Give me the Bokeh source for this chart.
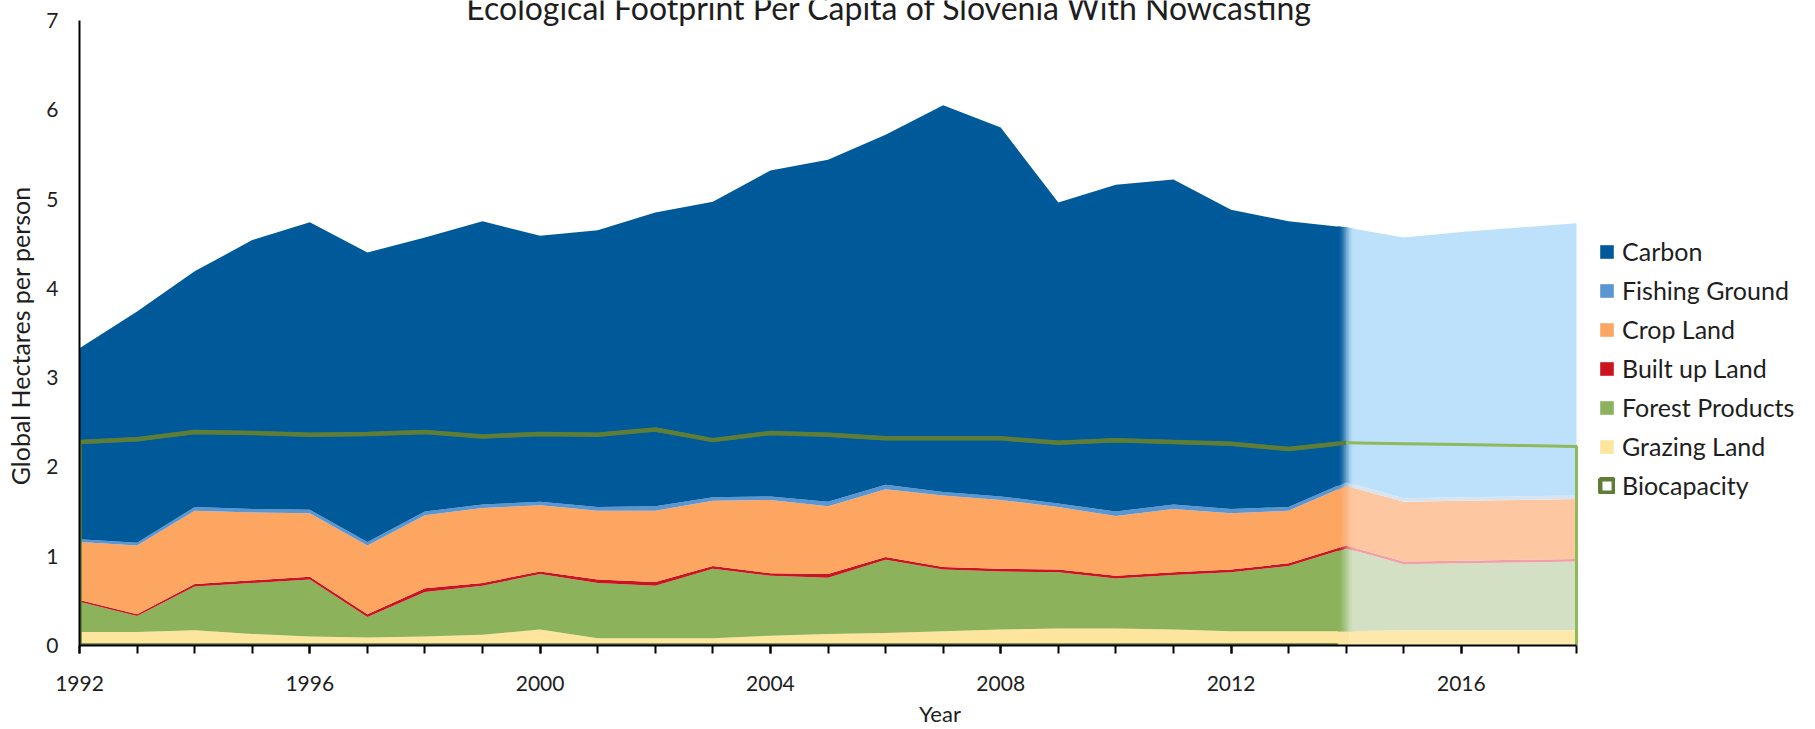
import numpy as np
from bokeh.plotting import figure
from bokeh.models import (ColumnDataSource, Legend, LegendItem, Label,
                          FixedTicker, Range1d)
from bokeh.embed import file_html
from bokeh.resources import INLINE

# ---------------- data (global hectares per person) ----------------
years = list(range(1992, 2019))
grazing = [0.15, 0.15, 0.17, 0.13, 0.10, 0.09, 0.10, 0.12, 0.18, 0.08, 0.08, 0.08,
           0.11, 0.13, 0.14, 0.16, 0.18, 0.19, 0.19, 0.18, 0.16, 0.16, 0.16,
           0.17, 0.17, 0.17, 0.17]
forest = [0.34, 0.18, 0.49, 0.57, 0.64, 0.23, 0.50, 0.55, 0.62, 0.62, 0.59, 0.78,
          0.67, 0.63, 0.82, 0.69, 0.65, 0.63, 0.56, 0.61, 0.66, 0.73, 0.93,
          0.74, 0.75, 0.76, 0.77]
built_up = [0.02, 0.02, 0.03, 0.03, 0.03, 0.03, 0.04, 0.03, 0.03, 0.04, 0.04, 0.03,
            0.03, 0.04, 0.03, 0.03, 0.03, 0.03, 0.03, 0.03, 0.03, 0.03, 0.03,
            0.03, 0.03, 0.03, 0.03]
crop = [0.65, 0.77, 0.82, 0.76, 0.71, 0.77, 0.82, 0.84, 0.74, 0.77, 0.80, 0.73,
        0.82, 0.76, 0.76, 0.80, 0.77, 0.70, 0.67, 0.71, 0.63, 0.59, 0.67,
        0.67, 0.67, 0.67, 0.67]
fishing = [0.03, 0.03, 0.04, 0.04, 0.04, 0.04, 0.04, 0.04, 0.04, 0.04, 0.05, 0.04,
           0.04, 0.05, 0.05, 0.04, 0.04, 0.04, 0.05, 0.05, 0.05, 0.04, 0.04,
           0.04, 0.04, 0.04, 0.04]
carbon = [2.14, 2.59, 2.64, 3.01, 3.22, 3.24, 3.07, 3.17, 2.98, 3.10, 3.29, 3.31,
          3.65, 3.83, 3.92, 4.33, 4.13, 3.37, 3.66, 3.64, 3.35, 3.20, 2.85,
          2.92, 2.97, 3.01, 3.05]
biocapacity = [2.28, 2.31, 2.39, 2.38, 2.36, 2.37, 2.39, 2.34, 2.37, 2.36, 2.42, 2.30,
               2.38, 2.36, 2.32, 2.32, 2.32, 2.27, 2.30, 2.28, 2.26, 2.20, 2.27,
               2.26, 2.25, 2.24, 2.23]
last_measured_year = 2014          # later years are nowcast
x_major_ticks = [1992, 1996, 2000, 2004, 2008, 2012, 2016]
y_ticks = [0, 1, 2, 3, 4, 5, 6, 7]
y_max = 7

layer_names = ["Grazing Land", "Forest Products", "Built up Land",
               "Crop Land", "Fishing Ground", "Carbon"]
layer_keys = ["grazing", "forest", "built_up", "crop", "fishing", "carbon"]
layer_values = [grazing, forest, built_up, crop, fishing, carbon]
dark_colors = ["#FEE59E", "#8CB25C", "#CC1420", "#FDA662", "#5A96D2", "#005A9A"]
light_colors = ["#FFE8AC", "#D3E0C3", "#F2A0A8", "#FDC7A1", "#D8E5F1", "#BDE1FB"]
bio_dark = "#5E7D37"
bio_light = "#8EBA5C"
FONT = "Lato"
TXT = "#1E1E1E"

# ---------------- layout (pixels) ----------------
W, H = 1800, 729
PX_LEFT, PX_RIGHT_END, PX_TOP, PX_ZERO = 79, 1576, 20, 646
ppy = (PX_RIGHT_END - PX_LEFT) / (years[-1] - years[0])
ppu = (PX_ZERO - PX_TOP) / y_max
x_end = years[-1] + (W - PX_RIGHT_END) / ppy
y_end = y_max + PX_TOP / ppu

# ---------------- sources ----------------
data = {"year": years}
for k, v in zip(layer_keys, layer_values):
    data[k] = v
idx_split = years.index(last_measured_year)
hist = {k: v[: idx_split + 1] for k, v in data.items()}
now = {k: v[idx_split:] for k, v in data.items()}
src_hist = ColumnDataSource(hist)
src_now = ColumnDataSource(now)

p = figure(width=W, height=H, output_backend="svg", toolbar_location=None,
           x_range=Range1d(years[0], x_end), y_range=Range1d(0, y_end),
           min_border_left=PX_LEFT, min_border_right=0, min_border_top=0,
           min_border_bottom=H - PX_ZERO)
p.outline_line_color = None
p.xgrid.visible = False
p.ygrid.visible = False

r_hist = p.varea_stack(stackers=layer_keys, x="year", color=dark_colors, source=src_hist)
r_now = p.varea_stack(stackers=layer_keys, x="year", color=light_colors, source=src_now)

# historical biocapacity outline (its closing edge gets covered by the fade)
bx_hist = [years[0]] + years[: idx_split + 1] + [last_measured_year]
by_hist = [0] + biocapacity[: idx_split + 1] + [0]
bio_patch = p.patch(bx_hist, by_hist, fill_alpha=0, line_color=bio_dark, line_width=4.5)

# ---------------- soft transition at the last measured year ----------------
def hex2rgb(h):
    h = h.lstrip("#")
    return np.array([int(h[i:i + 2], 16) for i in (0, 2, 4)], dtype=float)

def mix(a, b, t):
    c = hex2rgb(a) * (1 - t) + hex2rgb(b) * t
    return "#%02x%02x%02x" % tuple(int(round(x)) for x in c)

cum = np.cumsum(np.array(layer_values, dtype=float), axis=0)
t0, t1 = last_measured_year - 0.14, last_measured_year + 0.14
edges = list(np.linspace(t0, last_measured_year, 6)) + list(np.linspace(last_measured_year, t1, 6))[1:]
for xa, xb in zip(edges[:-1], edges[1:]):
    f = ((xa + xb) / 2 - t0) / (t1 - t0)
    f = f * f * (3 - 2 * f)
    for j in range(len(layer_keys)):
        lo_a = np.interp(xa, years, cum[j - 1]) if j > 0 else 0.0
        lo_b = np.interp(xb, years, cum[j - 1]) if j > 0 else 0.0
        up_a = np.interp(xa, years, cum[j])
        up_b = np.interp(xb, years, cum[j])
        c = mix(dark_colors[j], light_colors[j], f)
        p.patch(x=[xa, xb, xb, xa], y=[lo_a, lo_b, up_b, up_a],
                fill_color=c, line_color=c, line_width=0.8)

# ---------------- biocapacity lines ----------------
p.line(years[: idx_split + 1], biocapacity[: idx_split + 1], line_color=bio_dark, line_width=4)
bx_now = years[idx_split:] + [years[-1]]
by_now = biocapacity[idx_split:] + [0]
p.line(bx_now, by_now, line_color=bio_light, line_width=3)

# ---------------- axes ----------------
xa_ = p.xaxis[0]
xa_.bounds = (years[0], years[-1])
xa_.ticker = FixedTicker(ticks=x_major_ticks, minor_ticks=years)
xa_.axis_label = "Year"
xa_.axis_line_color = "black"
xa_.axis_line_width = 2
xa_.major_tick_out = 8
xa_.major_tick_in = 0
xa_.minor_tick_out = 8
xa_.minor_tick_in = 0
xa_.major_tick_line_width = 2
xa_.minor_tick_line_width = 2
xa_.major_tick_line_color = "black"
xa_.minor_tick_line_color = "black"
xa_.major_label_standoff = 22
xa_.axis_label_standoff = 6
xa_.axis_label_text_font_size = "22px"

ya_ = p.yaxis[0]
ya_.bounds = (0, y_max)
ya_.ticker = FixedTicker(ticks=y_ticks, minor_ticks=[])
# non-breaking spaces keep the label centred on the 0-7 span (frame reaches the top edge)
ya_.axis_label = "Global Hectares per person" + "\u00a0" * 4
ya_.axis_line_color = "black"
ya_.axis_line_width = 2
ya_.major_tick_out = 0
ya_.major_tick_in = 0
ya_.minor_tick_out = 0
ya_.minor_tick_in = 0
ya_.major_label_standoff = 21
ya_.axis_label_standoff = 8
ya_.axis_label_text_font_size = "25px"

for ax in (xa_, ya_):
    ax.major_label_text_font = FONT
    ax.major_label_text_font_size = "21px"
    ax.major_label_text_color = TXT
    ax.axis_label_text_font = FONT
    ax.axis_label_text_font_style = "normal"
    ax.axis_label_text_color = TXT

# ---------------- legend ----------------
items = [LegendItem(label=name, renderers=[r_hist[i]])
         for i, name in reversed(list(enumerate(layer_names)))]
items.append(LegendItem(label="Biocapacity", renderers=[bio_patch]))
legend = Legend(items=items, location=(1598 - PX_LEFT, 145), orientation="vertical",
                glyph_width=17, glyph_height=17, label_standoff=7, spacing=9,
                label_height=20, padding=0, margin=0, border_line_alpha=0,
                background_fill_alpha=0, label_text_font=FONT,
                label_text_font_size="25px", label_text_color=TXT)
p.add_layout(legend)

# ---------------- title ----------------
title = Label(x=years[0] + (889 - PX_LEFT) / ppy, y=y_max + (PX_TOP - 7) / ppu,
              text="Ecological Footprint Per Capita of Slovenia With Nowcasting",
              text_font=FONT, text_font_size="32px", text_align="center",
              text_baseline="alphabetic", text_color=TXT)
p.add_layout(title)

open("out.html", "w").write(file_html(p, INLINE))
